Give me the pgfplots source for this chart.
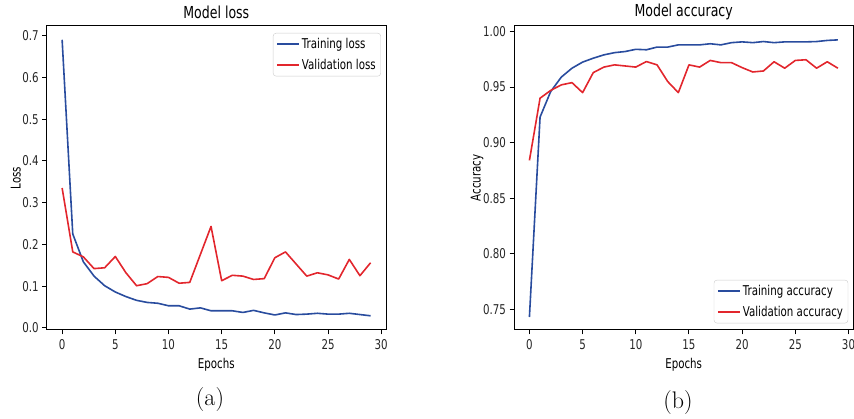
\documentclass[border=0pt]{standalone}
\usepackage{pgfplots}
\pgfplotsset{compat=1.18}
\usepackage{pgfplotstable}
\usepackage{fontspec}
\newfontfamily\mpl{DejaVu Sans}[FakeStretch=0.76]
\definecolor{tblue}{RGB}{41,76,158}
\definecolor{vred}{RGB}{226,38,45}

\pgfplotstableread{
ep tl vl ta va
0 0.690 0.335 0.743 0.884
1 0.225 0.182 0.923 0.940
2 0.158 0.170 0.946 0.947
3 0.124 0.142 0.959 0.952
4 0.101 0.144 0.967 0.954
5 0.086 0.171 0.9725 0.945
6 0.075 0.132 0.976 0.963
7 0.066 0.101 0.979 0.968
8 0.061 0.106 0.981 0.970
9 0.059 0.123 0.982 0.969
10 0.053 0.121 0.984 0.968
11 0.053 0.107 0.9836 0.973
12 0.045 0.109 0.986 0.970
13 0.048 0.176 0.986 0.955
14 0.041 0.243 0.988 0.945
15 0.041 0.113 0.988 0.970
16 0.041 0.126 0.988 0.968
17 0.037 0.124 0.989 0.974
18 0.042 0.116 0.988 0.972
19 0.036 0.118 0.990 0.972
20 0.031 0.168 0.9907 0.9675
21 0.036 0.182 0.990 0.9636
22 0.032 0.153 0.991 0.9645
23 0.033 0.124 0.990 0.9728
24 0.035 0.132 0.9907 0.967
25 0.033 0.127 0.9907 0.974
26 0.033 0.117 0.9907 0.9746
27 0.035 0.164 0.991 0.967
28 0.032 0.125 0.992 0.9728
29 0.029 0.156 0.9925 0.967
}\hist

\pgfplotsset{
  mpl/.style={
    scale only axis, width=339.3pt, height=304pt, anchor=south west,
    xmin=-1.45, xmax=30.45, xtick={0,5,...,30},
    tick pos=left, tick align=outside,
    major tick length=4.5pt,
    every tick/.style={black, line width=1pt},
    axis line style={line width=1pt, black},
    /pgf/number format/assume math mode=true,
    ticklabel style={font=\mpl\fontsize{13.5}{13.5}\selectfont, text=black!85},
    xticklabel style={yshift=-1.5pt},
    every axis title/.style={at={(axis description cs:0.5,1.046)}, anchor=center, font=\mpl\fontsize{16.5}{16.5}\selectfont},
    xlabel style={at={(axis description cs:0.5,-0.115)}, anchor=center, font=\mpl\fontsize{13.5}{13.5}\selectfont},
    legend style={draw=black!20, rounded corners=3pt, fill=white, font=\mpl\fontsize{13.5}{13.5}\selectfont, inner xsep=3pt, inner ysep=3pt, row sep=5.5pt},
    legend cell align=left,
    legend image code/.code={\draw[##1, line width=1.8pt] (0pt,0pt) -- (22pt,0pt);},
    every axis plot/.append style={line width=1.6pt, line join=round},
  }
}

\begin{document}
\begin{tikzpicture}
\useasboundingbox (0,0) rectangle (854pt,419pt);
\begin{axis}[mpl, at={(46.7pt,89pt)},
  ymin=-0.005, ymax=0.723, ytick={0,0.1,...,0.7},
  yticklabel style={/pgf/number format/.cd, fixed, fixed zerofill, precision=1},
  title={Model loss}, xlabel={Epochs}, ylabel={Loss},
  ylabel style={at={(axis description cs:-0.0914,0.5)}, anchor=center, font=\mpl\fontsize{13.5}{13.5}\selectfont},
  legend style={at={(0.985,0.977)}, anchor=north east}]
\addplot[tblue] table[x=ep, y=tl] {\hist};
\addplot[vred] table[x=ep, y=vl] {\hist};
\legend{Training loss, Validation loss}
\end{axis}
\begin{axis}[mpl, at={(514pt,89pt)},
  ymin=0.7313, ymax=1.005, ytick={0.75,0.80,...,1.0},
  yticklabel style={/pgf/number format/.cd, fixed, fixed zerofill, precision=2},
  title={Model accuracy}, xlabel={Epochs}, ylabel={Accuracy},
  ylabel style={at={(axis description cs:-0.109,0.5)}, anchor=center, font=\mpl\fontsize{13.5}{13.5}\selectfont},
  legend style={at={(0.985,0.022)}, anchor=south east}]
\addplot[tblue] table[x=ep, y=ta] {\hist};
\addplot[vred] table[x=ep, y=va] {\hist};
\legend{Training accuracy, Validation accuracy}
\end{axis}
\node[font=\fontsize{24}{24}\selectfont] at (210pt,19pt) {(a)};
\node[font=\fontsize{24}{24}\selectfont] at (678pt,16pt) {(b)};
\end{tikzpicture}
\end{document}
